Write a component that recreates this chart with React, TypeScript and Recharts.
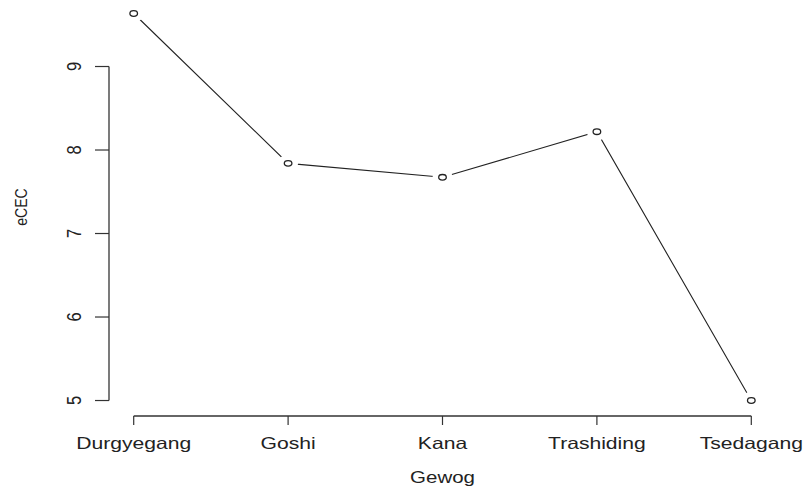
import React from 'react';
import { LineChart, Line, XAxis, YAxis, ReferenceLine } from 'recharts';

// eCEC by gewog
const gewogs = ['Durgyegang', 'Goshi', 'Kana', 'Trashiding', 'Tsedagang'];
const ecec = [9.635, 7.84, 7.673, 8.219, 5.0];
const yTicks = [5, 6, 7, 8, 9];
const xTicks = [1, 2, 3, 4, 5];

const data = gewogs.map((g, i) => ({ idx: i + 1, name: g, ecec: ecec[i] }));

// base-graphics style 4% padding on both axes
const yMin = Math.min(...ecec);
const yMax = Math.max(...ecec);
const yPad = (yMax - yMin) * 0.04;
const yDomain: [number, number] = [yMin - yPad, yMax + yPad];
const xPad = (xTicks[xTicks.length - 1] - xTicks[0]) * 0.04;
const xDomain: [number, number] = [xTicks[0] - xPad, xTicks[xTicks.length - 1] + xPad];

const SX = 1.28;
const INK = '#222';
const AXIS = '#333';
const FONT = 'Arial, "Liberation Sans", sans-serif';

const XTick = (props: any) => {
  const { x, y, payload } = props;
  return (
    <g transform={`translate(${x},${y + 22}) scale(${SX},1)`}>
      <text textAnchor="middle" fontSize={16.5} fontFamily={FONT} fill={INK}>
        {gewogs[payload.value - 1]}
      </text>
    </g>
  );
};

const YTick = (props: any) => {
  const { x, y, payload } = props;
  return (
    <g transform={`translate(${x - 12},${y}) scale(${SX},1) rotate(-90)`}>
      <text textAnchor="middle" fontSize={16.5} fontFamily={FONT} fill={INK}>
        {payload.value}
      </text>
    </g>
  );
};

const XTitle = (props: any) => {
  const vb = props.viewBox || {};
  const cx = vb.x + vb.width / 2;
  return (
    <g transform={`translate(${cx},${vb.y + 67}) scale(${SX},1)`}>
      <text textAnchor="middle" fontSize={16} fontFamily={FONT} fill={INK}>
        Gewog
      </text>
    </g>
  );
};

const YTitle = (props: any) => {
  const vb = props.viewBox || {};
  const cy = vb.y + vb.height / 2;
  return (
    <g transform={`translate(27,${cy}) scale(1.15,1) rotate(-90)`}>
      <text textAnchor="middle" fontSize={14} fontFamily={FONT} fill={INK}>
        eCEC
      </text>
    </g>
  );
};

// open circle with a white halo so the connecting line stops short of it
const GapDot = (props: any) => {
  const { cx, cy, index } = props;
  if (cx == null || cy == null) return null;
  return (
    <g key={`dot-${index}`}>
      <ellipse cx={cx} cy={cy} rx={10} ry={9} fill="#fff" stroke="none" />
      <ellipse cx={cx} cy={cy} rx={3.8} ry={2.8} fill="#fff" stroke={INK} strokeWidth={1.3} />
    </g>
  );
};

export default function App() {
  return (
    <div style={{ position: 'absolute', left: 0, top: 0, width: 804, height: 489, background: '#fff' }}>
      <LineChart width={804} height={489} data={data} margin={{ top: -2, right: 28, bottom: 0, left: 1 }}>
        <XAxis
          dataKey="idx"
          type="number"
          domain={xDomain}
          ticks={xTicks}
          axisLine={false}
          tickLine={{ stroke: AXIS, strokeWidth: 1.2 }}
          tickSize={9}
          tick={<XTick />}
          height={73}
          interval={0}
          allowDataOverflow
          label={<XTitle />}
        />
        <YAxis
          type="number"
          domain={yDomain}
          ticks={yTicks}
          axisLine={false}
          tickLine={{ stroke: AXIS, strokeWidth: 1.2 }}
          tickSize={14}
          tick={<YTick />}
          width={108}
          interval={0}
          allowDataOverflow
          label={<YTitle />}
        />
        <ReferenceLine
          segment={[{ x: xTicks[0], y: yDomain[0] }, { x: xTicks[xTicks.length - 1], y: yDomain[0] }]}
          stroke={AXIS}
          strokeWidth={1.3}
          ifOverflow="visible"
        />
        <ReferenceLine
          segment={[{ x: xDomain[0], y: yTicks[0] }, { x: xDomain[0], y: yTicks[yTicks.length - 1] }]}
          stroke={AXIS}
          strokeWidth={1.3}
          ifOverflow="visible"
        />
        <Line
          type="linear"
          dataKey="ecec"
          stroke={INK}
          strokeWidth={1.1}
          dot={<GapDot />}
          activeDot={false}
          isAnimationActive={false}
        />
      </LineChart>
    </div>
  );
}
